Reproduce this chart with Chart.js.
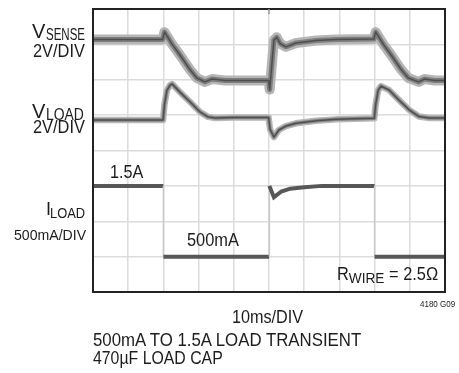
<!DOCTYPE html>
<html>
<head>
<meta charset="utf-8">
<script src="https://cdn.jsdelivr.net/npm/chart.js@4.4.1/dist/chart.umd.min.js"></script>
<style>
  html, body { margin: 0; padding: 0; background: #fff; }
  #wrap { position: relative; width: 459px; height: 373px; overflow: hidden; }
  canvas { position: absolute; left: 0; top: 0; }
  .t {
    position: absolute; white-space: nowrap; line-height: 1; color: #1c1c1c;
    font-family: "Liberation Sans", Arial, sans-serif; transform-origin: left top;
  }
</style>
</head>
<body>
<div id="wrap">
  <canvas id="scope" width="459" height="373"></canvas>

  <!-- channel names, baseline = top + 0.8465 * font size -->
  <div class="t" style="left:32px;top:21.1px;font-size:20px">V</div>
  <div class="t" style="left:46px;top:26.5px;font-size:16px;transform:scaleX(0.72)">SENSE</div>
  <div class="t" style="left:33px;top:41.8px;font-size:18px;transform:scaleX(0.91)">2V/DIV</div>

  <div class="t" style="left:32px;top:101.1px;font-size:20px">V</div>
  <div class="t" style="left:46px;top:106.5px;font-size:16px;transform:scaleX(0.87)">LOAD</div>
  <div class="t" style="left:33px;top:118.3px;font-size:18px;transform:scaleX(0.91)">2V/DIV</div>

  <div class="t" style="left:46px;top:199.8px;font-size:18px">I</div>
  <div class="t" style="left:50px;top:205.3px;font-size:15px;transform:scaleX(0.86)">LOAD</div>
  <div class="t" style="left:14px;top:227.3px;font-size:15px;transform:scaleX(0.94)">500mA/DIV</div>

  <!-- in-screen annotations -->
  <div class="t" style="left:110px;top:162.8px;font-size:18px;transform:scaleX(0.9)">1.5A</div>
  <div class="t" style="left:187px;top:230.8px;font-size:18px;transform:scaleX(0.91)">500mA</div>
  <div class="t" style="left:337px;top:264.8px;font-size:18px;transform:scaleX(0.91)">R<span style="font-size:15px;vertical-align:-3px">WIRE</span> = 2.5Ω</div>

  <!-- below the screen -->
  <div class="t" style="left:420px;top:300.4px;font-size:9px;transform:scaleX(0.89)">4180 G09</div>
  <div class="t" style="left:232px;top:307.8px;font-size:18px;transform:scaleX(0.9)">10ms/DIV</div>
  <div class="t" style="left:93px;top:330.8px;font-size:18px;transform:scaleX(0.934)">500mA TO 1.5A LOAD TRANSIENT</div>
  <div class="t" style="left:93px;top:348.8px;font-size:18px;transform:scaleX(0.88)">470µF LOAD CAP</div>
</div>

<script>
// Time base: 10 divisions of 10 ms
const timeMs = [0, 10, 20, 30, 40, 50, 60, 70, 80, 90, 100];
const screenDivs = 8;

// V_SENSE trace (screen divisions, 2V/DIV)
const tSense = [0, 19.8, 20.3, 21.0, 22.5, 24.7, 27.6, 29.5, 31.8, 33.8, 37.5, 49.9, 50.2, 51.4, 52.2, 53.2, 54.8, 57.7, 63.4, 69.0, 79.8, 80.3, 81.0, 82.5, 84.7, 87.6, 89.6, 92.5, 94.2, 97.0, 100];
const vSense = [7.14, 7.14, 7.35, 7.24, 7.0, 6.70, 6.28, 6.05, 5.94, 6.02, 5.98, 5.98, 5.72, 7.12, 7.20, 7.02, 6.93, 7.04, 7.11, 7.14, 7.15, 7.35, 7.24, 7.0, 6.70, 6.28, 6.05, 5.94, 6.02, 5.98, 5.98];

// V_LOAD trace (screen divisions, 2V/DIV)
const tLoad = [0, 19.9, 20.3, 21.0, 21.9, 22.5, 24.7, 27.6, 30.4, 32.7, 34.7, 40, 49.9, 50.3, 51.4, 52.8, 54.8, 57.7, 63.4, 69.0, 79.9, 80.3, 81.0, 81.8, 84.1, 86.9, 89.8, 92.6, 95.5, 100];
const vLoad = [4.86, 4.86, 5.3, 5.7, 5.85, 5.88, 5.65, 5.37, 5.09, 4.95, 4.92, 4.93, 4.93, 4.6, 4.38, 4.58, 4.69, 4.77, 4.84, 4.88, 4.91, 5.3, 5.7, 5.82, 5.71, 5.43, 5.15, 4.96, 4.92, 4.92];

// I_LOAD trace (amps, 500mA/DIV, zero on the bottom graticule line)
const tCurrent = [0, 20, 20, 50, 50.1, 51.4, 53.5, 56, 60, 65, 80, 80, 100];
const iLoad = [1.5, 1.5, 0.5, 0.5, 1.5, 1.34, 1.42, 1.46, 1.48, 1.5, 1.5, 0.5, 0.5];
const ampsPerDiv = 0.5;

const toPoints = (xs, ys) => xs.map((x, i) => ({ x, y: ys[i] }));
const sensePts = toPoints(tSense, vSense);
const loadPts = toPoints(tLoad, vLoad);
const currentPts = toPoints(tCurrent, iLoad.map(a => a / ampsPerDiv));

// a phosphor-like trace: the same data stroked narrow and dark on top of wide and light
// (Chart.js paints lower dataset indices last, so the narrow stroke comes first)
function trace(points, widths, colors) {
  return widths.map((w, k) => ({
    data: points,
    borderColor: colors[k],
    borderWidth: w,
    pointRadius: 0,
    tension: 0,
    fill: false,
    borderJoinStyle: 'round',
    borderCapStyle: 'butt'
  }));
}

const isVertical = ctx => Math.abs(ctx.p1.parsed.x - ctx.p0.parsed.x) < 0.2;

const currentTrace = {
  data: currentPts,
  borderColor: '#575757',
  borderWidth: 4,
  pointRadius: 0,
  tension: 0,
  fill: false,
  segment: {
    borderColor: ctx => isVertical(ctx) ? '#c9c9c9' : undefined,
    borderWidth: ctx => isVertical(ctx) ? 1.5 : undefined
  }
};

const screenFrame = {
  id: 'screenFrame',
  afterDatasetsDraw(chart) {
    const { ctx, chartArea: a } = chart;
    ctx.save();
    ctx.strokeStyle = '#222';
    ctx.lineWidth = 2;
    ctx.strokeRect(a.left, a.top, a.right - a.left, a.bottom - a.top);
    // trigger position marker
    const xs = chart.scales.x.getPixelForValue(50);
    ctx.strokeStyle = '#9a9a9a';
    ctx.lineWidth = 1.5;
    ctx.beginPath();
    ctx.moveTo(xs, a.top);
    ctx.lineTo(xs, a.top + 5);
    ctx.stroke();
    ctx.restore();
  }
};

new Chart(document.getElementById('scope'), {
  type: 'line',
  data: {
    datasets: [
      currentTrace,
      ...trace(loadPts, [1.5, 3.5, 6.5], ['#505050', '#858585', '#b8b8b8']),
      ...trace(sensePts, [1.5, 5, 10], ['#4e4e4e', '#7e7e7e', '#b6b6b6'])
    ]
  },
  options: {
    responsive: false,
    animation: false,
    devicePixelRatio: 1,
    layout: { padding: { left: 93, top: 9, right: 14, bottom: 81 } },
    plugins: { legend: { display: false }, tooltip: { enabled: false } },
    scales: {
      x: {
        type: 'linear',
        min: timeMs[0],
        max: timeMs[timeMs.length - 1],
        afterBuildTicks: s => { s.ticks = timeMs.map(v => ({ value: v })); },
        afterFit: s => { s.height = 0; },
        ticks: { display: false },
        border: { display: false },
        grid: { color: '#dcdcdc', lineWidth: 1.5, drawTicks: false }
      },
      y: {
        type: 'linear',
        min: 0,
        max: screenDivs,
        ticks: { display: false, stepSize: 1 },
        afterFit: s => { s.width = 0; },
        border: { display: false },
        grid: { color: '#dcdcdc', lineWidth: 1.5, drawTicks: false }
      }
    }
  },
  plugins: [screenFrame]
});
</script>
</body>
</html>
